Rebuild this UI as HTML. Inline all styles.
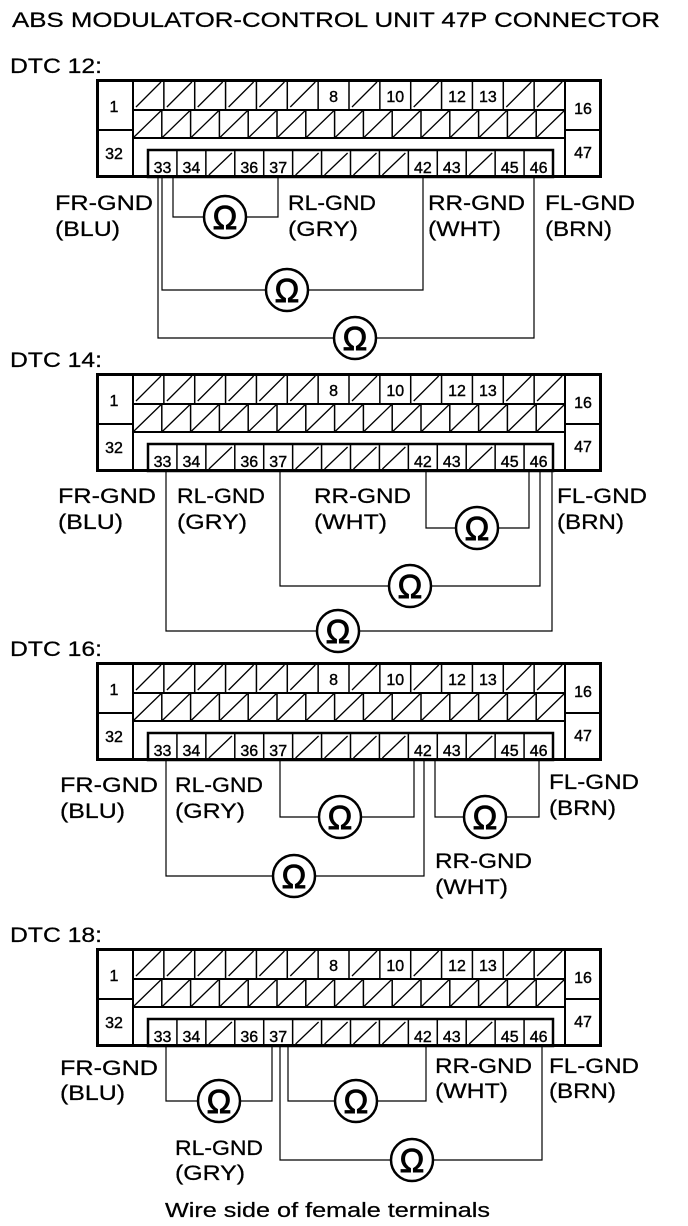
<!DOCTYPE html>
<html><head><meta charset="utf-8"><style>
html,body{margin:0;padding:0;background:#fff}
svg{display:block}
text{font-family:"Liberation Sans",Arial,sans-serif;fill:#000}
.l{font-size:21px;stroke:#000;stroke-width:0.25}
.n{font-size:16px;text-anchor:middle;stroke:#000;stroke-width:0.4}
.o{font-size:33px;text-anchor:middle;stroke:#000;stroke-width:0.9}
.w{fill:none;stroke:#000;stroke-width:1.2}
</style></head><body>
<svg width="688" height="1226" viewBox="0 0 688 1226" xmlns="http://www.w3.org/2000/svg">
<defs>
<g id="conn" fill="none" stroke="#000">
<rect x="97.5" y="1.5" width="503" height="96" stroke-width="3"/>
<path stroke-width="2" d="M133 0V99M565 0V99M96 51H133M565 51H602M133 31H565M133 59H565"/>
<path stroke-width="1.5" d="M163.86 0V31M194.71 0V31M225.57 0V31M256.43 0V31M287.29 0V31M318.14 0V31M349 0V31M379.86 0V31M410.71 0V31M441.57 0V31M472.43 0V31M503.29 0V31M534.14 0V31"/>
<path stroke-width="1.3" d="M136 28L161 3M166.9 28L191.9 3M197.7 28L222.7 3M228.6 28L253.6 3M259.4 28L284.4 3M290.3 28L315.3 3M352 28L377 3M413.7 28L438.7 3M506.3 28L531.3 3M537.1 28L562.1 3"/>
<path stroke-width="1.5" d="M161.8 31V59M190.6 31V59M219.4 31V59M248.2 31V59M277 31V59M305.8 31V59M334.6 31V59M363.4 31V59M392.2 31V59M421 31V59M449.8 31V59M478.6 31V59M507.4 31V59M536.2 31V59"/>
<path stroke-width="1.3" d="M133 59L161.8 31M161.8 59L190.6 31M190.6 59L219.4 31M219.4 59L248.2 31M248.2 59L277 31M277 59L305.8 31M305.8 59L334.6 31M334.6 59L363.4 31M363.4 59L392.2 31M392.2 59L421 31M421 59L449.8 31M449.8 59L478.6 31M478.6 59L507.4 31M507.4 59L536.2 31M536.2 59L565 31"/>
<rect x="148" y="71" width="405" height="27" stroke-width="2.5"/>
<path stroke-width="1.5" d="M176.93 71V99M205.86 71V99M234.79 71V99M263.71 71V99M292.64 71V99M321.57 71V99M350.5 71V99M379.43 71V99M408.36 71V99M437.29 71V99M466.21 71V99M495.14 71V99M524.07 71V99"/>
<path stroke-width="1.3" d="M208.9 96L231.9 74M295.6 96L318.6 74M324.6 96L347.6 74M353.5 96L376.5 74M382.4 96L405.4 74M469.2 96L492.2 74"/>
</g>
<g id="om"><circle cx="0" cy="0" r="21" fill="#fff" stroke="#000" stroke-width="2.5"/></g>
</defs>

<text class="l" x="12" y="27" textLength="648" lengthAdjust="spacingAndGlyphs">ABS MODULATOR-CONTROL UNIT 47P CONNECTOR</text>

<!-- Connector 1 -->
<text class="l" x="10" y="73" textLength="92" lengthAdjust="spacingAndGlyphs">DTC 12:</text>
<use href="#conn" transform="translate(0,79)"/>
<g transform="translate(0,79)">
<text class="n" x="114" y="33">1</text><text class="n" x="114" y="80">32</text><text class="n" x="583" y="35">16</text><text class="n" x="583" y="79">47</text>
<text class="n" x="333.6" y="23">8</text><text class="n" x="395.3" y="23">10</text><text class="n" x="457" y="23">12</text><text class="n" x="487.9" y="23">13</text>
<text class="n" x="162.5" y="94">33</text><text class="n" x="191.4" y="94">34</text><text class="n" x="249.3" y="94">36</text><text class="n" x="278.2" y="94">37</text><text class="n" x="422.9" y="94">42</text><text class="n" x="451.8" y="94">43</text><text class="n" x="509.7" y="94">45</text><text class="n" x="538.6" y="94">46</text>
</g>
<path class="w" d="M173 178V217H278V178M162 178V290H423V178M158 178V338H534V178"/>
<use href="#om" x="225" y="217"/><text class="o" x="225" y="229">Ω</text>
<use href="#om" x="287" y="290"/><text class="o" x="287" y="302">Ω</text>
<use href="#om" x="355" y="338"/><text class="o" x="355" y="350">Ω</text>
<text class="l" x="55" y="210" textLength="98" lengthAdjust="spacingAndGlyphs">FR-GND</text>
<text class="l" x="55" y="236" textLength="65" lengthAdjust="spacingAndGlyphs">(BLU)</text>
<text class="l" x="288" y="210" textLength="88" lengthAdjust="spacingAndGlyphs">RL-GND</text>
<text class="l" x="288" y="236" textLength="70" lengthAdjust="spacingAndGlyphs">(GRY)</text>
<text class="l" x="428" y="210" textLength="97" lengthAdjust="spacingAndGlyphs">RR-GND</text>
<text class="l" x="428" y="236" textLength="73" lengthAdjust="spacingAndGlyphs">(WHT)</text>
<text class="l" x="545" y="210" textLength="90" lengthAdjust="spacingAndGlyphs">FL-GND</text>
<text class="l" x="545" y="236" textLength="67" lengthAdjust="spacingAndGlyphs">(BRN)</text>

<!-- Connector 2 -->
<text class="l" x="10" y="367" textLength="92" lengthAdjust="spacingAndGlyphs">DTC 14:</text>
<use href="#conn" transform="translate(0,373)"/>
<g transform="translate(0,373)">
<text class="n" x="114" y="33">1</text><text class="n" x="114" y="80">32</text><text class="n" x="583" y="35">16</text><text class="n" x="583" y="79">47</text>
<text class="n" x="333.6" y="23">8</text><text class="n" x="395.3" y="23">10</text><text class="n" x="457" y="23">12</text><text class="n" x="487.9" y="23">13</text>
<text class="n" x="162.5" y="94">33</text><text class="n" x="191.4" y="94">34</text><text class="n" x="249.3" y="94">36</text><text class="n" x="278.2" y="94">37</text><text class="n" x="422.9" y="94">42</text><text class="n" x="451.8" y="94">43</text><text class="n" x="509.7" y="94">45</text><text class="n" x="538.6" y="94">46</text>
</g>
<path class="w" d="M426 472V528H529V472M280 472V586H540V472M166 472V631H552V472"/>
<use href="#om" x="477" y="528"/><text class="o" x="477" y="540">Ω</text>
<use href="#om" x="410" y="586"/><text class="o" x="410" y="598">Ω</text>
<use href="#om" x="338" y="631"/><text class="o" x="338" y="643">Ω</text>
<text class="l" x="58" y="503" textLength="98" lengthAdjust="spacingAndGlyphs">FR-GND</text>
<text class="l" x="58" y="529" textLength="65" lengthAdjust="spacingAndGlyphs">(BLU)</text>
<text class="l" x="177" y="503" textLength="88" lengthAdjust="spacingAndGlyphs">RL-GND</text>
<text class="l" x="177" y="529" textLength="70" lengthAdjust="spacingAndGlyphs">(GRY)</text>
<text class="l" x="314" y="503" textLength="97" lengthAdjust="spacingAndGlyphs">RR-GND</text>
<text class="l" x="314" y="529" textLength="73" lengthAdjust="spacingAndGlyphs">(WHT)</text>
<text class="l" x="557" y="503" textLength="90" lengthAdjust="spacingAndGlyphs">FL-GND</text>
<text class="l" x="557" y="529" textLength="67" lengthAdjust="spacingAndGlyphs">(BRN)</text>

<!-- Connector 3 -->
<text class="l" x="10" y="656" textLength="92" lengthAdjust="spacingAndGlyphs">DTC 16:</text>
<use href="#conn" transform="translate(0,662)"/>
<g transform="translate(0,662)">
<text class="n" x="114" y="33">1</text><text class="n" x="114" y="80">32</text><text class="n" x="583" y="35">16</text><text class="n" x="583" y="79">47</text>
<text class="n" x="333.6" y="23">8</text><text class="n" x="395.3" y="23">10</text><text class="n" x="457" y="23">12</text><text class="n" x="487.9" y="23">13</text>
<text class="n" x="162.5" y="94">33</text><text class="n" x="191.4" y="94">34</text><text class="n" x="249.3" y="94">36</text><text class="n" x="278.2" y="94">37</text><text class="n" x="422.9" y="94">42</text><text class="n" x="451.8" y="94">43</text><text class="n" x="509.7" y="94">45</text><text class="n" x="538.6" y="94">46</text>
</g>
<path class="w" d="M280 761V817H414V761M435 761V817H539V761M166 761V876H424V761"/>
<use href="#om" x="340" y="817"/><text class="o" x="340" y="829">Ω</text>
<use href="#om" x="485" y="817"/><text class="o" x="485" y="829">Ω</text>
<use href="#om" x="294" y="876"/><text class="o" x="294" y="888">Ω</text>
<text class="l" x="60" y="792" textLength="98" lengthAdjust="spacingAndGlyphs">FR-GND</text>
<text class="l" x="60" y="818" textLength="65" lengthAdjust="spacingAndGlyphs">(BLU)</text>
<text class="l" x="175" y="792" textLength="88" lengthAdjust="spacingAndGlyphs">RL-GND</text>
<text class="l" x="175" y="818" textLength="70" lengthAdjust="spacingAndGlyphs">(GRY)</text>
<text class="l" x="435" y="868" textLength="97" lengthAdjust="spacingAndGlyphs">RR-GND</text>
<text class="l" x="435" y="894" textLength="73" lengthAdjust="spacingAndGlyphs">(WHT)</text>
<text class="l" x="549" y="789" textLength="90" lengthAdjust="spacingAndGlyphs">FL-GND</text>
<text class="l" x="549" y="815" textLength="67" lengthAdjust="spacingAndGlyphs">(BRN)</text>

<!-- Connector 4 -->
<text class="l" x="10" y="942" textLength="92" lengthAdjust="spacingAndGlyphs">DTC 18:</text>
<use href="#conn" transform="translate(0,948)"/>
<g transform="translate(0,948)">
<text class="n" x="114" y="33">1</text><text class="n" x="114" y="80">32</text><text class="n" x="583" y="35">16</text><text class="n" x="583" y="79">47</text>
<text class="n" x="333.6" y="23">8</text><text class="n" x="395.3" y="23">10</text><text class="n" x="457" y="23">12</text><text class="n" x="487.9" y="23">13</text>
<text class="n" x="162.5" y="94">33</text><text class="n" x="191.4" y="94">34</text><text class="n" x="249.3" y="94">36</text><text class="n" x="278.2" y="94">37</text><text class="n" x="422.9" y="94">42</text><text class="n" x="451.8" y="94">43</text><text class="n" x="509.7" y="94">45</text><text class="n" x="538.6" y="94">46</text>
</g>
<path class="w" d="M166 1047V1101H272V1047M288 1047V1101H426V1047M280 1047V1160H542V1047"/>
<use href="#om" x="219" y="1101"/><text class="o" x="219" y="1113">Ω</text>
<use href="#om" x="356" y="1101"/><text class="o" x="356" y="1113">Ω</text>
<use href="#om" x="412" y="1160"/><text class="o" x="412" y="1172">Ω</text>
<text class="l" x="60" y="1075" textLength="98" lengthAdjust="spacingAndGlyphs">FR-GND</text>
<text class="l" x="60" y="1100" textLength="65" lengthAdjust="spacingAndGlyphs">(BLU)</text>
<text class="l" x="175" y="1155" textLength="88" lengthAdjust="spacingAndGlyphs">RL-GND</text>
<text class="l" x="175" y="1180" textLength="70" lengthAdjust="spacingAndGlyphs">(GRY)</text>
<text class="l" x="435" y="1073" textLength="97" lengthAdjust="spacingAndGlyphs">RR-GND</text>
<text class="l" x="435" y="1098" textLength="73" lengthAdjust="spacingAndGlyphs">(WHT)</text>
<text class="l" x="549" y="1073" textLength="90" lengthAdjust="spacingAndGlyphs">FL-GND</text>
<text class="l" x="549" y="1098" textLength="67" lengthAdjust="spacingAndGlyphs">(BRN)</text>

<text class="l" x="165" y="1217" textLength="325" lengthAdjust="spacingAndGlyphs" style="font-size:20px">Wire side of female terminals</text>
</svg>
</body></html>
